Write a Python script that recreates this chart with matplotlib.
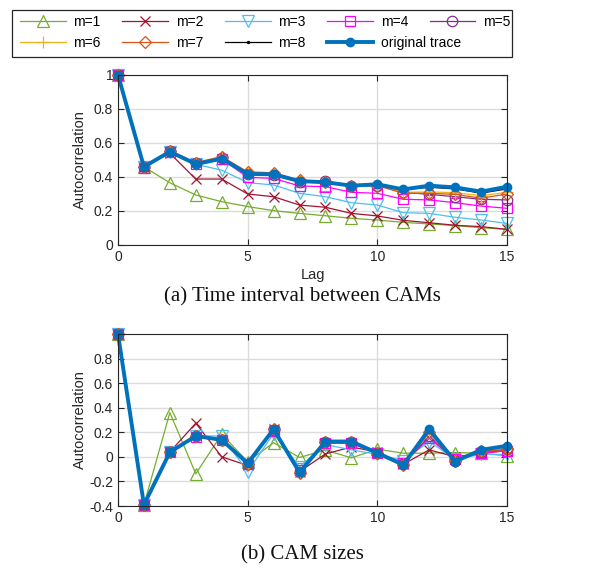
import matplotlib
matplotlib.use("Agg")
import matplotlib.pyplot as plt
from matplotlib.patches import Rectangle

plt.rcParams['font.family'] = ['Liberation Sans', 'DejaVu Sans']

lags = list(range(16))

# (a) Time interval between CAMs
ti_m1 = [1, 0.46, 0.366, 0.294, 0.255, 0.226, 0.202, 0.186, 0.172, 0.157, 0.147, 0.133, 0.124, 0.114, 0.102, 0.092]
ti_m2 = [1, 0.46, 0.54, 0.388, 0.388, 0.30, 0.284, 0.235, 0.222, 0.186, 0.171, 0.145, 0.131, 0.116, 0.108, 0.092]
ti_m3 = [1, 0.46, 0.545, 0.475, 0.44, 0.367, 0.353, 0.304, 0.284, 0.249, 0.235, 0.19, 0.186, 0.163, 0.147, 0.127]
ti_m4 = [1, 0.455, 0.545, 0.475, 0.505, 0.398, 0.392, 0.347, 0.343, 0.31, 0.304, 0.269, 0.265, 0.249, 0.229, 0.216]
ti_m5 = [1, 0.46, 0.55, 0.48, 0.51, 0.415, 0.41, 0.37, 0.378, 0.345, 0.35, 0.31, 0.298, 0.284, 0.269, 0.265]
ti_m6 = [1, 0.46, 0.55, 0.48, 0.515, 0.425, 0.42, 0.378, 0.37, 0.348, 0.352, 0.31, 0.312, 0.308, 0.29, 0.31]
ti_m7 = [1, 0.46, 0.555, 0.485, 0.52, 0.43, 0.425, 0.38, 0.368, 0.345, 0.35, 0.304, 0.304, 0.298, 0.275, 0.30]
ti_m8 = [1, 0.46, 0.548, 0.476, 0.508, 0.418, 0.416, 0.374, 0.368, 0.348, 0.356, 0.325, 0.34, 0.33, 0.305, 0.33]
ti_orig = [1, 0.46, 0.549, 0.476, 0.508, 0.418, 0.416, 0.376, 0.369, 0.349, 0.357, 0.327, 0.349, 0.339, 0.314, 0.343]

# (b) CAM sizes
sz_m1 = [1.0, -0.39, 0.36, -0.138, 0.185, -0.04, 0.115, -0.005, 0.055, -0.008, 0.062, 0.03, 0.03, 0.035, 0.03, 0.008]
sz_m2 = [1.0, -0.39, 0.04, 0.274, 0.0, -0.07, 0.23, -0.12, 0.024, 0.08, 0.04, -0.06, 0.057, 0.0, 0.03, 0.05]
sz_m3 = [1.0, -0.39, 0.04, 0.17, 0.17, -0.12, 0.19, -0.08, 0.10, 0.057, 0.02, -0.03, 0.125, -0.02, 0.02, 0.02]
sz_m4 = [1.0, -0.39, 0.04, 0.165, 0.14, -0.06, 0.21, -0.11, 0.11, 0.11, 0.03, -0.05, 0.15, -0.02, 0.03, 0.05]
sz_m5 = [1.0, -0.39, 0.04, 0.17, 0.14, -0.055, 0.22, -0.12, 0.12, 0.12, 0.03, -0.06, 0.17, -0.03, 0.04, 0.06]
sz_m6 = [1.0, -0.39, 0.04, 0.17, 0.14, -0.055, 0.225, -0.125, 0.122, 0.122, 0.03, -0.062, 0.19, -0.035, 0.045, 0.07]
sz_m7 = [1.0, -0.39, 0.04, 0.17, 0.14, -0.055, 0.225, -0.13, 0.125, 0.125, 0.03, -0.065, 0.20, -0.035, 0.045, 0.06]
sz_m8 = [1.0, -0.39, 0.038, 0.17, 0.138, -0.052, 0.225, -0.127, 0.125, 0.125, 0.032, -0.065, 0.215, -0.038, 0.055, 0.085]
sz_orig = [1.0, -0.39, 0.038, 0.17, 0.138, -0.052, 0.225, -0.127, 0.125, 0.125, 0.032, -0.065, 0.225, -0.038, 0.057, 0.09]

labels = ['m=1', 'm=2', 'm=3', 'm=4', 'm=5', 'm=6', 'm=7', 'm=8', 'original trace']
colors = ['#77AC30', '#A2142F', '#4DBEEE', '#FF00FF', '#7E2F8E', '#EDB120', '#D95319', '#000000', '#0072BD']
markers = ['^', 'x', 'v', 's', 'o', '+', 'D', '.', 'o']

def style_kw(i):
    if i == 8:
        return dict(color=colors[i], marker='o', markersize=6, lw=2.8,
                    markerfacecolor=colors[i], markeredgecolor=colors[i], clip_on=False)
    kw = dict(color=colors[i], marker=markers[i], lw=0.9, markerfacecolor='none',
              markeredgecolor=colors[i], markersize=8, markeredgewidth=0.9, clip_on=False)
    if markers[i] == 'x':
        kw['markersize'] = 6.5
    if markers[i] == 'D':
        kw['markersize'] = 6
    if markers[i] == 's':
        kw['markersize'] = 6.5
    if markers[i] == 'o':
        kw['markersize'] = 7.5
    if markers[i] == '.':
        kw['markersize'] = 3
        kw['markerfacecolor'] = colors[i]
    return kw

fig = plt.figure(figsize=(6.01, 5.76), dpi=100)
W, H = 601, 576

def ax_rect(x0, y0, x1, y1):
    return [x0 / W, 1 - y1 / H, (x1 - x0) / W, (y1 - y0) / H]

ax1 = fig.add_axes(ax_rect(118, 75, 507, 245))
ax2 = fig.add_axes(ax_rect(118, 334, 507, 506))

top_series = [ti_m1, ti_m2, ti_m3, ti_m4, ti_m5, ti_m6, ti_m7, ti_m8, ti_orig]
bot_series = [sz_m1, sz_m2, sz_m3, sz_m4, sz_m5, sz_m6, sz_m7, sz_m8, sz_orig]

handles = []
for i, (s1, s2) in enumerate(zip(top_series, bot_series)):
    h, = ax1.plot(lags, s1, label=labels[i], **style_kw(i))
    ax2.plot(lags, s2, **style_kw(i))
    handles.append(h)

spine_c = '#262626'
for ax in (ax1, ax2):
    ax.set_xlim(0, 15)
    ax.set_xticks([0, 5, 10, 15])
    ax.grid(True, color='#dcdcdc', lw=1.0)
    ax.set_axisbelow(True)
    ax.tick_params(direction='in', top=True, right=True, labelsize=10, colors=spine_c,
                   length=4, width=0.8)
    for sp in ax.spines.values():
        sp.set_color(spine_c)
        sp.set_linewidth(0.8)
    ax.set_ylabel('Autocorrelation', fontsize=10.5, color=spine_c)

ax1.set_ylim(0, 1)
ax1.set_yticks([0, 0.2, 0.4, 0.6, 0.8, 1.0])
ax1.set_yticklabels(['0', '0.2', '0.4', '0.6', '0.8', '1'])
ax1.set_xlabel('Lag', fontsize=10.5, color=spine_c, labelpad=3)

ax2.set_ylim(-0.4, 1.0)
ax2.set_yticks([-0.4, -0.2, 0, 0.2, 0.4, 0.6, 0.8])
ax2.set_yticklabels(['-0.4', '-0.2', '0', '0.2', '0.4', '0.6', '0.8'])

for ax in (ax1, ax2):
    ax.yaxis.set_label_coords(-0.08, 0.5)

# Legend: two rows drawn as separate legends inside a common frame
leg_kw = dict(frameon=False, fontsize=10, handlelength=3.3, handletextpad=0.55,
              columnspacing=1.55, borderpad=0, borderaxespad=0, loc='center left')
fig.legend(handles[:5], labels[:5], ncol=5,
           bbox_to_anchor=(20 / W, 1 - 22 / H), **leg_kw)
fig.legend(handles[5:], labels[5:], ncol=4,
           bbox_to_anchor=(20 / W, 1 - 43 / H), **leg_kw)
fig.patches.append(Rectangle((12 / W, 1 - 57 / H), 500 / W, 47 / H,
                             transform=fig.transFigure, fill=False,
                             edgecolor=spine_c, lw=0.9))

fig.text(302 / W, 1 - 297 / H, '(a) Time interval between CAMs', ha='center', va='center',
         fontsize=15, family='Liberation Serif', color='#111111')
fig.text(302 / W, 1 - 555 / H, '(b) CAM sizes', ha='center', va='center',
         fontsize=15, family='Liberation Serif', color='#111111')

fig.savefig('out.png', dpi=100)
